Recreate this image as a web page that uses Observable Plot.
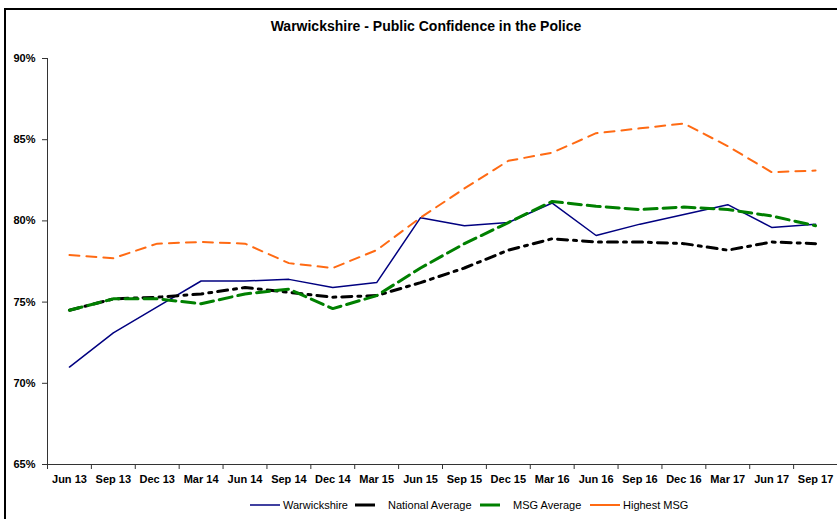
<!DOCTYPE html>
<html>
<head>
<meta charset="utf-8">
<script src="https://cdn.jsdelivr.net/npm/d3@7"></script>
<script src="https://cdn.jsdelivr.net/npm/@observablehq/plot@0.6"></script>
<style>
  html, body { margin: 0; padding: 0; background: #fff; }
  #wrap { position: relative; width: 837px; height: 519px; overflow: hidden; font-family: "Liberation Sans", Arial, sans-serif; }
  #chart { position: absolute; left: 0; top: 0; }
  #frame { position: absolute; left: 4px; top: 8px; width: 900px; height: 600px; border-top: 2px solid #000; border-left: 2px solid #000; pointer-events: none; }
  #title { position: absolute; left: 0; width: 852px; top: 18px; text-align: center; font-weight: bold; font-size: 14px; color: #000; }
  .leg { position: absolute; top: 498px; height: 14px; display: flex; align-items: center; font-size: 11px; color: #000; white-space: nowrap; }
  .leg svg { display: block; margin-right: 3px; }
</style>
</head>
<body>
<div id="wrap">
  <div id="chart"></div>
  <div id="title">Warwickshire - Public Confidence in the Police</div>
  <div id="legend"></div>
  <div id="frame"></div>
</div>
<script>
const categories = ["Jun 13","Sep 13","Dec 13","Mar 14","Jun 14","Sep 14","Dec 14","Mar 15","Jun 15","Sep 15","Dec 15","Mar 16","Jun 16","Sep 16","Dec 16","Mar 17","Jun 17","Sep 17"];
const warwickshire = [71.0, 73.1, 74.7, 76.3, 76.3, 76.4, 75.9, 76.2, 80.2, 79.7, 79.9, 81.1, 79.1, 79.8, 80.4, 81.0, 79.6, 79.8];
const nationalAverage = [74.5, 75.2, 75.3, 75.5, 75.9, 75.6, 75.3, 75.4, 76.2, 77.1, 78.2, 78.9, 78.7, 78.7, 78.6, 78.2, 78.7, 78.6];
const msgAverage = [74.5, 75.2, 75.2, 74.9, 75.5, 75.8, 74.6, 75.4, 77.1, 78.6, 79.9, 81.2, 80.9, 80.7, 80.85, 80.7, 80.3, 79.7];
const highestMsg = [77.9, 77.7, 78.6, 78.7, 78.6, 77.4, 77.1, 78.2, 80.2, 82.0, 83.7, 84.2, 85.4, 85.7, 86.0, 84.6, 83.0, 83.1];
const yTicks = [65, 70, 75, 80, 85, 90];
const seriesNames = ["Warwickshire", "National Average", "MSG Average", "Highest MSG"];

const rows = (vals) => vals.map((v, i) => ({i, v}));
const idx = d3.range(categories.length);
const bounds = d3.range(categories.length + 1).map(i => i - 0.5);

const plot = Plot.plot({
  width: 837,
  height: 519,
  marginLeft: 47,
  marginRight: 0,
  marginTop: 58,
  marginBottom: 55,
  style: {background: "transparent", overflow: "visible", fontFamily: "'Liberation Sans', Arial, sans-serif"},
  x: {type: "linear", domain: [-0.5, categories.length - 0.5]},
  y: {domain: [65, 90]},
  marks: [
    Plot.axisY({ticks: yTicks, tickFormat: d => d + "%", tickSize: 5, tickPadding: 7, stroke: "#333", fontWeight: "bold", fontSize: 11, fill: "#000", label: null}),
    Plot.axisX({ticks: bounds, tickFormat: () => "", tickSize: 5, stroke: "#333", label: null}),
    Plot.axisX({ticks: idx, tickFormat: i => categories[i], tickSize: 0, tickPadding: 11, fontWeight: "bold", fontSize: 11, fill: "#000", label: null}),
    Plot.ruleX([-0.5], {stroke: "#333", strokeWidth: 1}),
    Plot.ruleY([65], {stroke: "#333", strokeWidth: 1}),
    Plot.line(rows(warwickshire), {x: "i", y: "v", stroke: "#000080", strokeWidth: 1.5}),
    Plot.line(rows(nationalAverage), {x: "i", y: "v", stroke: "#000", strokeWidth: 3, strokeDasharray: "10,6,3,6"}),
    Plot.line(rows(msgAverage), {x: "i", y: "v", stroke: "#008000", strokeWidth: 3, strokeDasharray: "13,6"}),
    Plot.line(rows(highestMsg), {x: "i", y: "v", stroke: "#ff6a13", strokeWidth: 2, strokeDasharray: "10,7"})
  ]
});
document.getElementById("chart").appendChild(plot);

// legend
const legendSpec = [
  {name: seriesNames[0], color: "#000080", w: 30, sw: 1.5, left: 250},
  {name: seriesNames[1], color: "#000", w: 20, sw: 3, left: 355, gap: 13},
  {name: seriesNames[2], color: "#008000", w: 20, sw: 3, left: 480, gap: 13},
  {name: seriesNames[3], color: "#ff6a13", w: 30, sw: 2, left: 590}
];
const legend = document.getElementById("legend");
legendSpec.forEach(s => {
  const item = document.createElement("div");
  item.className = "leg";
  item.style.left = s.left + "px";
  const svg = d3.create("svg").attr("width", s.w).attr("height", 8).style("margin-right", (s.gap || 3) + "px");
  svg.append("line").attr("x1", 0).attr("x2", s.w).attr("y1", 4).attr("y2", 4).attr("stroke", s.color).attr("stroke-width", s.sw);
  item.appendChild(svg.node());
  const t = document.createElement("span");
  t.textContent = s.name;
  item.appendChild(t);
  legend.appendChild(item);
});
</script>
</body>
</html>
